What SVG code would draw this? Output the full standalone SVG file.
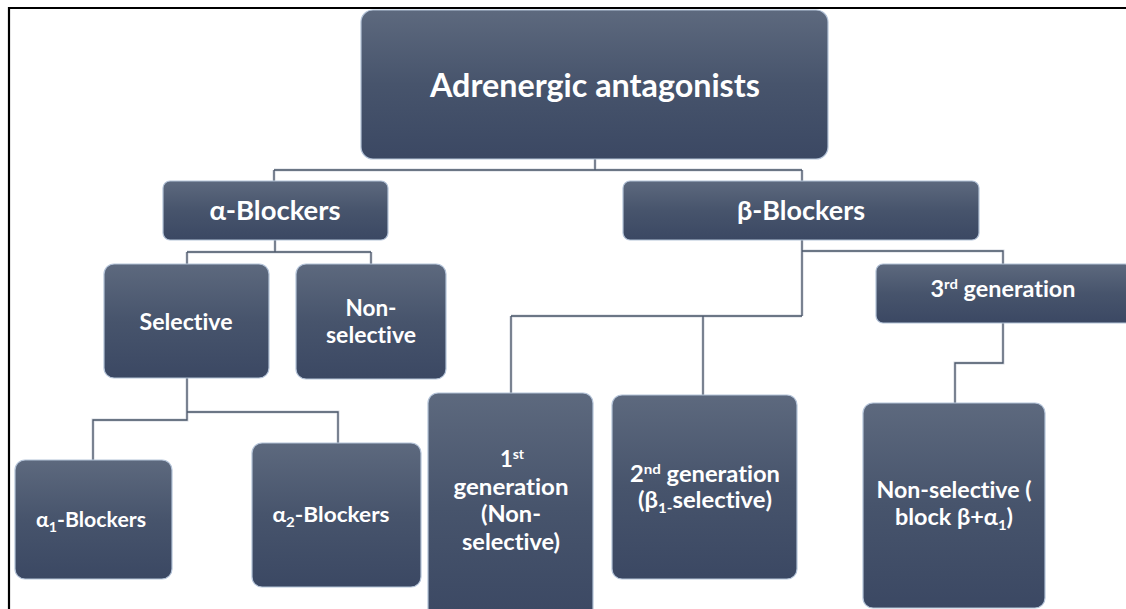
<svg xmlns="http://www.w3.org/2000/svg" width="1126" height="609" viewBox="0 0 1126 609">
<defs>
<linearGradient id="g" x1="0" y1="0" x2="0" y2="1">
<stop offset="0" stop-color="#5d697e"/>
<stop offset="0.5" stop-color="#47546c"/>
<stop offset="1" stop-color="#3b4863"/>
</linearGradient>
</defs>
<style>
.box{fill:url(#g);stroke:#b4c3d8;stroke-width:1.2}
.t{font-family:Lato,"Open Sans","Liberation Sans",sans-serif;font-weight:bold;fill:#ffffff;text-anchor:middle;font-variant-ligatures:none;font-feature-settings:"liga" 0,"clig" 0,"dlig" 0}
.c{fill:none;stroke:#4a5568;stroke-width:1.3}
.cb{fill:none;stroke:#d3d8df;stroke-width:3}
.frame{stroke:#000;stroke-width:2.2;fill:none}
</style>
<rect width="1126" height="609" fill="#ffffff"/>
<path class="frame" d="M9,609 V8 H1126"/>

<g id="connectors">
<path class="cb" d="M595,159 V170 M274,170 H802 M274,170 V181 M802,170 V181 M275,240 V252 M187,252 H371 M187,252 V264 M371,252 V264 M187,378 V420 H93 V460 M187,412 H338 V443 M802,240 V316 M511,316 H802 M511,316 V393 M703,316 V395 M802,251 H1003 V264 M1003,323 V363 H955 V403"/>
<path class="c" d="M595,159 V170 M274,170 H802 M274,170 V181 M802,170 V181 M275,240 V252 M187,252 H371 M187,252 V264 M371,252 V264 M187,378 V420 H93 V460 M187,412 H338 V443 M802,240 V316 M511,316 H802 M511,316 V393 M703,316 V395 M802,251 H1003 V264 M1003,323 V363 H955 V403"/>
</g>

<g id="adrenergic">
<rect class="box" x="361" y="10" width="467" height="149" rx="12"/>
<text class="t" x="595" y="97" font-size="32" textLength="330" lengthAdjust="spacingAndGlyphs">Adrenergic antagonists</text>
</g>
<g id="alpha">
<rect class="box" x="163" y="181" width="225" height="59" rx="7"/>
<text class="t" x="275" y="220" font-size="27" textLength="131" lengthAdjust="spacingAndGlyphs">α-Blockers</text>
</g>
<g id="beta">
<rect class="box" x="623" y="181" width="356" height="59" rx="7"/>
<text class="t" x="801" y="220" font-size="27" textLength="128" lengthAdjust="spacingAndGlyphs">β-Blockers</text>
</g>
<g id="selective">
<rect class="box" x="104" y="264" width="165" height="114" rx="10"/>
<text class="t" x="186" y="330" font-size="23" textLength="93" lengthAdjust="spacingAndGlyphs">Selective</text>
</g>
<g id="nonselective">
<rect class="box" x="296" y="264" width="150" height="115" rx="10"/>
<text class="t" x="371" y="316" font-size="23" textLength="51" lengthAdjust="spacingAndGlyphs">Non-</text>
<text class="t" x="371" y="343" font-size="23" textLength="90" lengthAdjust="spacingAndGlyphs">selective</text>
</g>
<g id="alpha1">
<rect class="box" x="15" y="460" width="157" height="119" rx="10"/>
<text class="t" x="91" y="527" font-size="21" textLength="110" lengthAdjust="spacingAndGlyphs">α<tspan font-size="14" dy="5">1</tspan><tspan dy="-5">-Blockers</tspan></text>
</g>
<g id="alpha2">
<rect class="box" x="252" y="443" width="169" height="144" rx="10"/>
<text class="t" x="331" y="522" font-size="21" textLength="117" lengthAdjust="spacingAndGlyphs">α<tspan font-size="14" dy="5">2</tspan><tspan dy="-5">-Blockers</tspan></text>
</g>
<g id="gen3">
<rect class="box" x="876" y="264" width="256" height="59" rx="7"/>
<text class="t" x="1003" y="297" font-size="22" textLength="145" lengthAdjust="spacingAndGlyphs">3<tspan font-size="14" dy="-8">rd</tspan><tspan dy="8"> generation</tspan></text>
</g>
<g id="gen1">
<rect class="box" x="428" y="393" width="165" height="230" rx="10"/>
<text class="t" x="512" y="467" font-size="22">1<tspan font-size="14" dy="-8">st</tspan></text>
<text class="t" x="511" y="495" font-size="23" textLength="115" lengthAdjust="spacingAndGlyphs">generation</text>
<text class="t" x="511" y="522" font-size="23" textLength="60" lengthAdjust="spacingAndGlyphs">(Non-</text>
<text class="t" x="511" y="550" font-size="23" textLength="98" lengthAdjust="spacingAndGlyphs">selective)</text>
</g>
<g id="gen2">
<rect class="box" x="612" y="395" width="185" height="184" rx="10"/>
<text class="t" x="705" y="482" font-size="22" textLength="150" lengthAdjust="spacingAndGlyphs">2<tspan font-size="14" dy="-8">nd</tspan><tspan dy="8"> generation</tspan></text>
<text class="t" x="705" y="508" font-size="22" textLength="134" lengthAdjust="spacingAndGlyphs">(β<tspan font-size="14" dy="5">1-</tspan><tspan dy="-5">selective)</tspan></text>
</g>
<g id="nonsel3">
<rect class="box" x="863" y="403" width="182" height="205" rx="10"/>
<text class="t" x="954" y="498" font-size="22" textLength="155" lengthAdjust="spacingAndGlyphs">Non-selective (</text>
<text class="t" x="954" y="525" font-size="22" textLength="118" lengthAdjust="spacingAndGlyphs">block β+α<tspan font-size="14" dy="5">1</tspan><tspan dy="-5">)</tspan></text>
</g>
</svg>
